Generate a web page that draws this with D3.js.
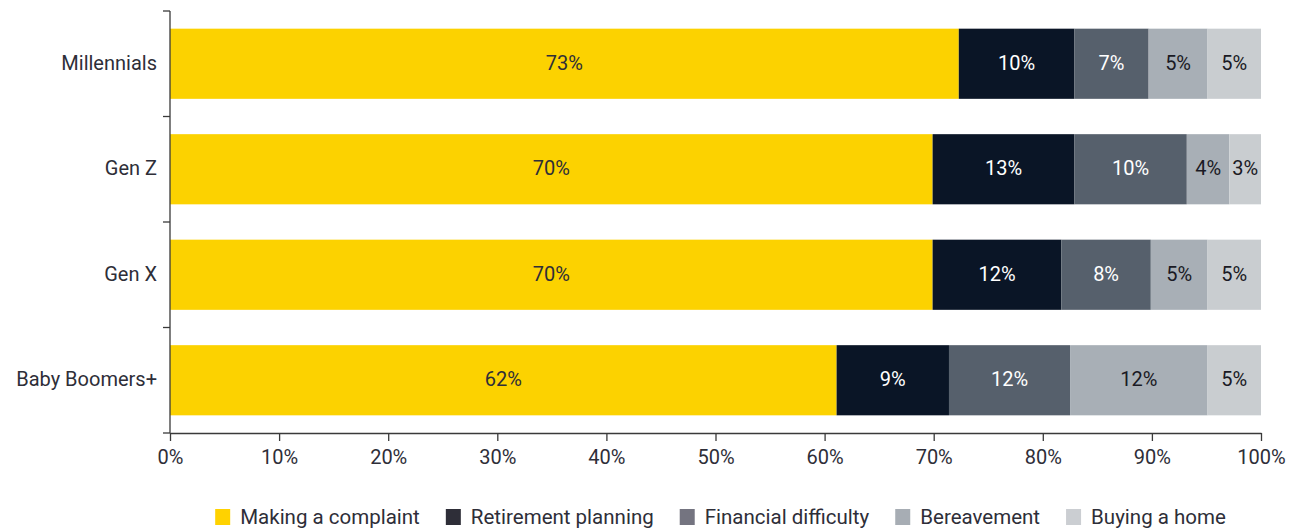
<!DOCTYPE html>
<html>
<head>
<meta charset="utf-8">
<script src="https://cdn.jsdelivr.net/npm/d3@7"></script>
<style>
  body { margin: 0; background: #fff; }
  svg text { font-family: Roboto, "Noto Sans", sans-serif; }
  .axis path, .axis line { stroke: #3a3a3a; stroke-width: 1.3; }
  .axis text { font-size: 20px; fill: #2e2e38; }
</style>
</head>
<body>
<svg id="chart" width="1307" height="529"></svg>
<script>
const categories = ['Millennials', 'Gen Z', 'Gen X', 'Baby Boomers+'];
const seriesNames = ['Making a complaint', 'Retirement planning', 'Financial difficulty', 'Bereavement', 'Buying a home'];
// bar lengths (percent of respondents)
const complaint = [72.3, 69.9, 69.9, 61.1];
const retirement = [10.6, 13.0, 11.8, 10.3];
const financial = [6.8, 10.3, 8.2, 11.1];
const bereavement = [5.4, 3.9, 5.2, 12.6];
const buyingHome = [4.9, 2.9, 4.9, 4.9];
// printed labels
const complaintLabels = ['73%', '70%', '70%', '62%'];
const retirementLabels = ['10%', '13%', '12%', '9%'];
const financialLabels = ['7%', '10%', '8%', '12%'];
const bereavementLabels = ['5%', '4%', '5%', '12%'];
const buyingHomeLabels = ['5%', '3%', '5%', '5%'];
const xTicks = [0, 10, 20, 30, 40, 50, 60, 70, 80, 90, 100];

const barColors = ['#fcd200', '#0a1526', '#56606c', '#a8afb6', '#c9cdd0'];
const legendColors = ['#ffd200', '#2e2e38', '#747480', '#a7adb4', '#cbced2'];
const labelColors = ['#2e2e38', '#ffffff', '#ffffff', '#1a1a24', '#1a1a24'];

const seriesValues = [complaint, retirement, financial, bereavement, buyingHome];
const seriesLabels = [complaintLabels, retirementLabels, financialLabels, bereavementLabels, buyingHomeLabels];

const svg = d3.select('#chart');
const margin = { top: 11, right: 46, bottom: 96, left: 170 };
const width = 1307 - margin.left - margin.right;
const height = 529 - margin.top - margin.bottom;

const g = svg.append('g').attr('transform', `translate(${margin.left},${margin.top})`);

const x = d3.scaleLinear().domain([0, 100]).range([0, width]);
const y = d3.scaleBand().domain(categories).range([0, height]).paddingInner(0.335).paddingOuter(0.1675);

const rows = categories.map((cat, i) => {
  let acc = 0;
  return seriesValues.map((vals, s) => {
    const seg = { cat, s, x0: acc, x1: acc + vals[i], label: seriesLabels[s][i] };
    acc += vals[i];
    return seg;
  });
});
const segments = rows.flat();

g.selectAll('rect.seg')
  .data(segments)
  .join('rect')
  .attr('class', 'seg')
  .attr('x', (d) => x(d.x0))
  .attr('y', (d) => y(d.cat))
  .attr('width', (d) => x(d.x1) - x(d.x0))
  .attr('height', y.bandwidth())
  .attr('fill', (d) => barColors[d.s]);

g.selectAll('text.seg-label')
  .data(segments)
  .join('text')
  .attr('class', 'seg-label')
  .attr('x', (d) => (x(d.x0) + x(d.x1)) / 2)
  .attr('y', (d) => y(d.cat) + y.bandwidth() / 2)
  .attr('dy', '0.3em')
  .attr('text-anchor', 'middle')
  .attr('font-size', 20)
  .attr('fill', (d) => labelColors[d.s])
  .text((d) => d.label);

// x axis
const xAxis = d3.axisBottom(x).tickValues(xTicks).tickFormat((d) => d + '%').tickSizeInner(8).tickSizeOuter(0).tickPadding(9);
g.append('g').attr('class', 'axis').attr('transform', `translate(0,${height})`).call(xAxis);

// y axis: ticks sit between the categories
const yAxisG = g.append('g').attr('class', 'axis');
yAxisG.append('line').attr('x1', 0).attr('x2', 0).attr('y1', 0).attr('y2', height);
const step = y.step();
const boundaries = d3.range(categories.length + 1).map((i) => y.range()[0] + i * step);
yAxisG.selectAll('line.tick-b')
  .data(boundaries)
  .join('line')
  .attr('class', 'tick-b')
  .attr('x1', -7).attr('x2', 0)
  .attr('y1', (d) => d).attr('y2', (d) => d);
yAxisG.selectAll('text.cat')
  .data(categories)
  .join('text')
  .attr('class', 'cat')
  .attr('x', -13)
  .attr('y', (d) => y(d) + y.bandwidth() / 2)
  .attr('dy', '0.3em')
  .attr('text-anchor', 'end')
  .text((d) => d);

// legend
const legend = svg.append('g').attr('class', 'legend');
const items = legend.selectAll('g.item').data(seriesNames).join('g').attr('class', 'item');
items.append('rect').attr('width', 15).attr('height', 16).attr('y', -15).attr('fill', (d, i) => legendColors[i]);
items.append('text').attr('x', 25).attr('font-size', 20.5).attr('fill', '#2e2e38').text((d) => d);
let offset = 0;
const gap = 26;
items.each(function () {
  const w = 25 + d3.select(this).select('text').node().getComputedTextLength();
  d3.select(this).attr('data-x', offset);
  offset += w + gap;
});
const total = offset - gap;
const startX = 720.5 - total / 2;
items.attr('transform', function () { return `translate(${startX + +this.getAttribute('data-x')},524)`; });
</script>
</body>
</html>
